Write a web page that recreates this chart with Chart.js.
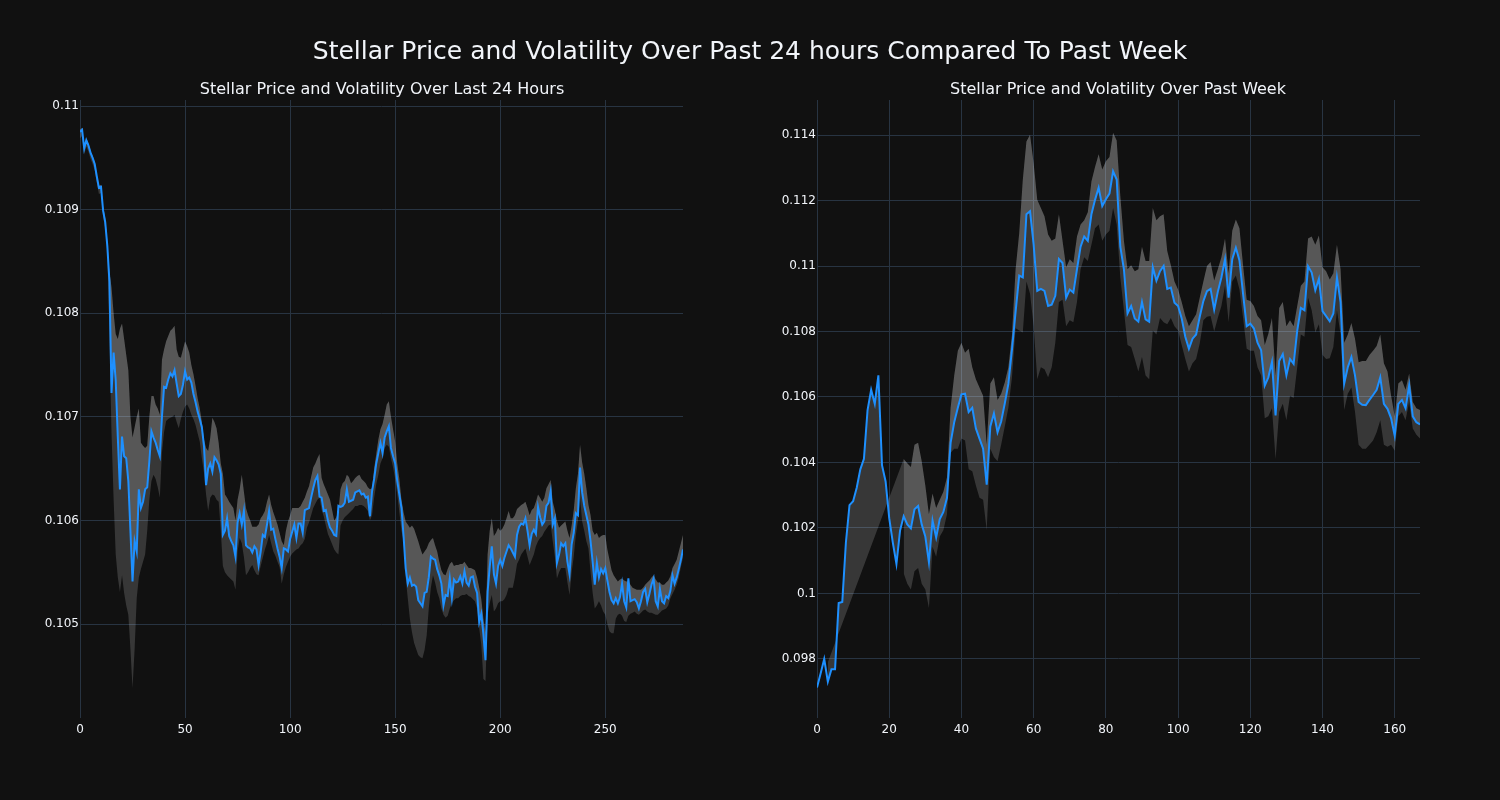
<!DOCTYPE html>
<html><head><meta charset="utf-8">
<script src="https://cdn.jsdelivr.net/npm/chart.js@4.4.1/dist/chart.umd.min.js"></script>
<style>
html,body{margin:0;padding:0;background:#111111;width:1500px;height:800px;overflow:hidden;font-family:"DejaVu Sans",sans-serif;}
canvas{position:absolute;top:0;}
.t{position:absolute;color:#f2f5fa;white-space:nowrap;transform:translate(-50%,-50%);line-height:1;}
</style></head><body>
<canvas id="c1" width="750" height="800" style="left:0px"></canvas>
<canvas id="c2" width="750" height="800" style="left:750px"></canvas>
<div class="t" style="left:750px;top:50px;font-size:25px;">Stellar Price and Volatility Over Past 24 hours Compared To Past Week</div>
<div class="t" style="left:382px;top:89px;font-size:16px;">Stellar Price and Volatility Over Last 24 Hours</div>
<div class="t" style="left:1118px;top:89px;font-size:16px;">Stellar Price and Volatility Over Past Week</div>
<script>
// ---------- Left panel: last 24 hours (5-minute steps) ----------
const dayPrice = [
0.10975,0.10977,0.10959,0.10967,0.10962,0.10955,0.10950,0.10944,0.10932,0.10921,
0.10922,0.10899,0.10888,0.10865,0.10831,0.10723,0.10762,0.10735,0.10680,0.10630,
0.10681,0.10662,0.10660,0.10638,0.10590,0.10541,0.10580,0.10570,0.10630,0.10612,
0.10618,0.10630,0.10632,0.10657,0.10686,0.10680,0.10675,0.10668,0.10662,0.10700,
0.10729,0.10728,0.10736,0.10742,0.10739,0.10745,0.10732,0.10720,0.10722,0.10731,
0.10744,0.10736,0.10738,0.10733,0.10722,0.10714,0.10705,0.10698,0.10690,0.10672,
0.10634,0.10650,0.10655,0.10647,0.10661,0.10658,0.10654,0.10645,0.10586,0.10590,
0.10602,0.10585,0.10580,0.10576,0.10565,0.10598,0.10607,0.10596,0.10609,0.10576,
0.10574,0.10573,0.10569,0.10575,0.10572,0.10557,0.10570,0.10586,0.10584,0.10596,
0.10609,0.10591,0.10592,0.10582,0.10573,0.10565,0.10554,0.10573,0.10572,0.10570,
0.10582,0.10589,0.10596,0.10583,0.10597,0.10597,0.10588,0.10610,0.10611,0.10612,
0.10622,0.10631,0.10639,0.10643,0.10623,0.10622,0.10609,0.10610,0.10600,0.10593,
0.10590,0.10586,0.10585,0.10614,0.10613,0.10614,0.10617,0.10630,0.10618,0.10619,
0.10620,0.10627,0.10628,0.10629,0.10625,0.10626,0.10622,0.10623,0.10604,0.10628,
0.10640,0.10655,0.10665,0.10675,0.10665,0.10680,0.10686,0.10691,0.10670,0.10662,
0.10655,0.10638,0.10625,0.10612,0.10585,0.10554,0.10539,0.10545,0.10537,0.10538,
0.10536,0.10523,0.10520,0.10517,0.10530,0.10531,0.10545,0.10565,0.10563,0.10562,
0.10553,0.10547,0.10539,0.10518,0.10528,0.10527,0.10544,0.10525,0.10543,0.10540,
0.10541,0.10546,0.10539,0.10551,0.10540,0.10537,0.10545,0.10546,0.10536,0.10530,
0.10502,0.10510,0.10490,0.10465,0.10531,0.10555,0.10575,0.10548,0.10539,0.10556,
0.10562,0.10556,0.10564,0.10570,0.10576,0.10573,0.10569,0.10565,0.10586,0.10594,
0.10597,0.10596,0.10602,0.10590,0.10576,0.10587,0.10591,0.10587,0.10613,0.10603,
0.10596,0.10599,0.10614,0.10617,0.10628,0.10596,0.10602,0.10559,0.10567,0.10578,
0.10575,0.10578,0.10560,0.10548,0.10577,0.10588,0.10607,0.10605,0.10651,0.10627,
0.10614,0.10605,0.10596,0.10580,0.10560,0.10538,0.10559,0.10545,0.10553,0.10549,
0.10554,0.10542,0.10531,0.10523,0.10520,0.10525,0.10520,0.10526,0.10539,0.10522,
0.10516,0.10544,0.10522,0.10523,0.10524,0.10521,0.10515,0.10522,0.10531,0.10534,
0.10521,0.10529,0.10538,0.10544,0.10522,0.10517,0.10534,0.10522,0.10520,0.10527,
0.10525,0.10532,0.10547,0.10539,0.10545,0.10553,0.10562,0.10572];
const dayUpper = [
0.10977,0.10979,0.10962,0.10969,0.10964,0.10957,0.10952,0.10946,0.10934,0.10923,
0.10924,0.10903,0.10892,0.10870,0.10840,0.10825,0.10800,0.10780,0.10775,0.10785,
0.10790,0.10775,0.10760,0.10745,0.10700,0.10680,0.10690,0.10700,0.10708,0.10675,
0.10672,0.10670,0.10672,0.10700,0.10720,0.10720,0.10712,0.10708,0.10702,0.10755,
0.10765,0.10773,0.10778,0.10783,0.10785,0.10788,0.10765,0.10758,0.10757,0.10765,
0.10773,0.10768,0.10762,0.10750,0.10741,0.10730,0.10718,0.10708,0.10695,0.10678,
0.10670,0.10667,0.10680,0.10699,0.10695,0.10689,0.10675,0.10655,0.10645,0.10625,
0.10622,0.10618,0.10615,0.10612,0.10600,0.10620,0.10630,0.10644,0.10628,0.10612,
0.10605,0.10600,0.10594,0.10594,0.10594,0.10596,0.10602,0.10605,0.10609,0.10618,
0.10625,0.10615,0.10608,0.10602,0.10596,0.10588,0.10580,0.10576,0.10590,0.10599,
0.10605,0.10612,0.10612,0.10612,0.10612,0.10614,0.10618,0.10622,0.10628,0.10633,
0.10642,0.10651,0.10655,0.10660,0.10664,0.10641,0.10635,0.10630,0.10625,0.10620,
0.10610,0.10600,0.10603,0.10609,0.10630,0.10636,0.10638,0.10644,0.10642,0.10636,
0.10638,0.10641,0.10643,0.10644,0.10640,0.10638,0.10636,0.10632,0.10630,0.10631,
0.10650,0.10664,0.10678,0.10688,0.10693,0.10702,0.10712,0.10715,0.10700,0.10688,
0.10676,0.10655,0.10640,0.10620,0.10608,0.10599,0.10596,0.10593,0.10595,0.10592,
0.10586,0.10580,0.10573,0.10567,0.10570,0.10573,0.10578,0.10581,0.10583,0.10576,
0.10570,0.10560,0.10552,0.10548,0.10547,0.10553,0.10558,0.10560,0.10556,0.10557,
0.10557,0.10558,0.10558,0.10560,0.10557,0.10554,0.10554,0.10553,0.10552,0.10545,
0.10535,0.10524,0.10505,0.10492,0.10567,0.10590,0.10602,0.10585,0.10588,0.10593,
0.10590,0.10592,0.10596,0.10602,0.10609,0.10602,0.10602,0.10605,0.10611,0.10613,
0.10615,0.10616,0.10618,0.10612,0.10605,0.10610,0.10612,0.10618,0.10625,0.10622,
0.10618,0.10622,0.10631,0.10635,0.10639,0.10618,0.10610,0.10600,0.10593,0.10595,
0.10597,0.10599,0.10590,0.10583,0.10595,0.10610,0.10631,0.10645,0.10673,0.10656,
0.10645,0.10631,0.10615,0.10605,0.10590,0.10586,0.10588,0.10583,0.10585,0.10586,
0.10586,0.10572,0.10562,0.10552,0.10547,0.10544,0.10541,0.10543,0.10544,0.10542,
0.10541,0.10541,0.10538,0.10535,0.10534,0.10533,0.10533,0.10533,0.10535,0.10538,
0.10540,0.10542,0.10545,0.10547,0.10543,0.10540,0.10540,0.10538,0.10538,0.10540,
0.10542,0.10546,0.10554,0.10558,0.10562,0.10570,0.10578,0.10586];
const dayLower = [
0.10969,0.10971,0.10953,0.10961,0.10956,0.10949,0.10944,0.10938,0.10926,0.10915,
0.10916,0.10893,0.10882,0.10859,0.10780,0.10684,0.10620,0.10567,0.10545,0.10531,
0.10547,0.10530,0.10518,0.10509,0.10476,0.10438,0.10476,0.10525,0.10545,0.10553,
0.10560,0.10567,0.10590,0.10620,0.10638,0.10644,0.10640,0.10632,0.10622,0.10665,
0.10685,0.10696,0.10698,0.10699,0.10700,0.10702,0.10695,0.10689,0.10698,0.10705,
0.10710,0.10712,0.10708,0.10702,0.10698,0.10692,0.10684,0.10676,0.10660,0.10646,
0.10625,0.10609,0.10622,0.10625,0.10624,0.10620,0.10618,0.10590,0.10556,0.10550,
0.10547,0.10545,0.10543,0.10541,0.10533,0.10570,0.10583,0.10578,0.10565,0.10547,
0.10550,0.10554,0.10557,0.10552,0.10548,0.10547,0.10556,0.10564,0.10572,0.10578,
0.10586,0.10578,0.10570,0.10566,0.10560,0.10555,0.10539,0.10548,0.10555,0.10560,
0.10565,0.10568,0.10570,0.10572,0.10573,0.10576,0.10578,0.10582,0.10593,0.10598,
0.10605,0.10612,0.10616,0.10620,0.10622,0.10610,0.10604,0.10595,0.10587,0.10582,
0.10577,0.10572,0.10569,0.10567,0.10595,0.10600,0.10603,0.10605,0.10607,0.10609,
0.10611,0.10614,0.10614,0.10615,0.10615,0.10614,0.10612,0.10609,0.10600,0.10605,
0.10622,0.10635,0.10644,0.10655,0.10660,0.10670,0.10673,0.10671,0.10660,0.10651,
0.10640,0.10625,0.10608,0.10590,0.10580,0.10545,0.10525,0.10505,0.10492,0.10482,
0.10476,0.10470,0.10468,0.10467,0.10475,0.10489,0.10515,0.10535,0.10547,0.10540,
0.10531,0.10525,0.10515,0.10509,0.10506,0.10508,0.10515,0.10520,0.10523,0.10525,
0.10525,0.10527,0.10528,0.10528,0.10529,0.10527,0.10526,0.10524,0.10522,0.10515,
0.10496,0.10480,0.10447,0.10445,0.10509,0.10520,0.10528,0.10512,0.10515,0.10520,
0.10522,0.10522,0.10524,0.10528,0.10535,0.10535,0.10535,0.10545,0.10558,0.10562,
0.10567,0.10570,0.10573,0.10565,0.10557,0.10562,0.10567,0.10575,0.10580,0.10583,
0.10585,0.10589,0.10592,0.10595,0.10596,0.10580,0.10565,0.10544,0.10550,0.10554,
0.10554,0.10554,0.10540,0.10528,0.10550,0.10565,0.10586,0.10600,0.10622,0.10599,
0.10590,0.10580,0.10573,0.10550,0.10530,0.10515,0.10518,0.10522,0.10518,0.10512,
0.10509,0.10500,0.10493,0.10491,0.10491,0.10505,0.10509,0.10510,0.10508,0.10503,
0.10502,0.10508,0.10510,0.10511,0.10512,0.10510,0.10509,0.10511,0.10513,0.10514,
0.10512,0.10511,0.10511,0.10510,0.10509,0.10509,0.10511,0.10513,0.10514,0.10515,
0.10518,0.10525,0.10529,0.10533,0.10538,0.10545,0.10555,0.10564];
const dayXTicks = [0, 50, 100, 150, 200, 250];
const dayYTicks = [0.105, 0.106, 0.107, 0.108, 0.109, 0.11];

// ---------- Right panel: past week (hourly) ----------
const weekPrice = [
0.09713,0.09756,0.09800,0.09731,0.09769,0.09769,0.09971,0.09974,0.10155,0.10270,
0.10282,0.10323,0.10379,0.10411,0.10560,0.10622,0.10579,0.10666,0.10392,0.10342,
0.10230,0.10155,0.10090,0.10192,0.10236,0.10211,0.10199,0.10257,0.10267,0.10211,
0.10174,0.10095,0.10223,0.10171,0.10227,0.10249,0.10292,0.10460,0.10523,0.10567,
0.10608,0.10610,0.10554,0.10567,0.10504,0.10473,0.10442,0.10332,0.10510,0.10550,
0.10492,0.10525,0.10580,0.10640,0.10745,0.10860,0.10971,0.10965,0.11158,0.11167,
0.11065,0.10924,0.10930,0.10924,0.10878,0.10882,0.10909,0.11021,0.11009,0.10903,
0.10928,0.10919,0.10990,0.11059,0.11090,0.11077,0.11158,0.11202,0.11239,0.11183,
0.11204,0.11221,0.11289,0.11264,0.11059,0.10990,0.10855,0.10878,0.10840,0.10830,
0.10890,0.10837,0.10830,0.10996,0.10955,0.10984,0.11000,0.10930,0.10934,0.10888,
0.10878,0.10840,0.10784,0.10747,0.10778,0.10791,0.10845,0.10893,0.10923,0.10930,
0.10867,0.10921,0.10965,0.11021,0.10903,0.11021,0.11056,0.11017,0.10915,0.10816,
0.10824,0.10809,0.10766,0.10743,0.10635,0.10660,0.10707,0.10544,0.10710,0.10731,
0.10666,0.10716,0.10701,0.10803,0.10872,0.10865,0.10999,0.10980,0.10926,0.10961,
0.10862,0.10847,0.10831,0.10855,0.10965,0.10890,0.10641,0.10691,0.10722,0.10666,
0.10585,0.10576,0.10575,0.10591,0.10606,0.10622,0.10660,0.10579,0.10564,0.10535,
0.10482,0.10579,0.10591,0.10566,0.10635,0.10541,0.10523,0.10516];
const weekUpper = [
null,null,null,0.09790,null,null,null,null,null,null,
null,null,null,null,null,null,null,null,null,null,
null,null,null,null,0.10411,0.10398,0.10386,0.10454,0.10460,0.10404,
0.10330,0.10242,0.10305,0.10261,0.10286,0.10311,0.10355,0.10567,0.10666,0.10741,
0.10766,0.10735,0.10747,0.10691,0.10654,0.10629,0.10604,0.10454,0.10641,0.10660,
0.10591,0.10610,0.10644,0.10691,0.10790,0.10990,0.11100,0.11264,0.11380,0.11401,
0.11314,0.11202,0.11177,0.11152,0.11096,0.11077,0.11084,0.11158,0.11077,0.10996,
0.11021,0.11009,0.11090,0.11127,0.11140,0.11164,0.11258,0.11302,0.11341,0.11295,
0.11320,0.11333,0.11407,0.11383,0.11214,0.11077,0.10990,0.11002,0.10984,0.10990,
0.11059,0.11015,0.11015,0.11177,0.11140,0.11152,0.11158,0.11046,0.11002,0.10953,
0.10928,0.10890,0.10847,0.10816,0.10834,0.10853,0.10903,0.10953,0.11000,0.11012,
0.10956,0.10990,0.11027,0.11084,0.10978,0.11108,0.11142,0.11115,0.11002,0.10897,
0.10893,0.10878,0.10847,0.10834,0.10759,0.10793,0.10841,0.10666,0.10872,0.10890,
0.10816,0.10834,0.10816,0.10878,0.10940,0.10953,0.11084,0.11090,0.11065,0.11093,
0.10996,0.10984,0.10959,0.10978,0.11065,0.10990,0.10766,0.10791,0.10826,0.10778,
0.10706,0.10710,0.10710,0.10728,0.10741,0.10756,0.10791,0.10703,0.10678,0.10604,
0.10541,0.10641,0.10651,0.10622,0.10672,0.10585,0.10566,0.10560];
const weekLower = [
null,null,null,null,null,null,null,null,null,null,
null,null,null,null,null,null,null,null,null,null,
null,null,null,null,0.10062,0.10030,0.10012,0.10068,0.10078,0.10030,
0.10012,0.09956,0.10143,0.10112,0.10174,0.10193,0.10242,0.10429,0.10442,0.10442,
0.10473,0.10467,0.10379,0.10373,0.10330,0.10292,0.10286,0.10193,0.10442,0.10417,
0.10404,0.10454,0.10510,0.10567,0.10660,0.10810,0.10803,0.10797,0.10953,0.10915,
0.10816,0.10654,0.10691,0.10685,0.10660,0.10691,0.10766,0.10890,0.10897,0.10816,
0.10834,0.10828,0.10890,0.10990,0.11027,0.11015,0.11065,0.11115,0.11127,0.11077,
0.11096,0.11108,0.11177,0.11127,0.10965,0.10865,0.10759,0.10753,0.10716,0.10678,
0.10722,0.10666,0.10654,0.10803,0.10791,0.10841,0.10828,0.10822,0.10841,0.10816,
0.10803,0.10759,0.10716,0.10678,0.10703,0.10716,0.10763,0.10834,0.10845,0.10847,
0.10800,0.10841,0.10878,0.10940,0.10828,0.10953,0.10971,0.10928,0.10841,0.10747,
0.10741,0.10741,0.10691,0.10666,0.10535,0.10541,0.10566,0.10411,0.10554,0.10579,
0.10529,0.10604,0.10597,0.10691,0.10791,0.10784,0.10903,0.10865,0.10797,0.10822,
0.10728,0.10716,0.10718,0.10753,0.10865,0.10791,0.10560,0.10610,0.10629,0.10554,
0.10454,0.10442,0.10442,0.10454,0.10467,0.10492,0.10529,0.10454,0.10448,0.10454,
0.10436,0.10541,0.10554,0.10529,0.10585,0.10504,0.10485,0.10473];
const weekXTicks = [0, 20, 40, 60, 80, 100, 120, 140, 160];
const weekYTicks = [0.098, 0.1, 0.102, 0.104, 0.106, 0.108, 0.11, 0.112, 0.114];

// ---------- Styles ----------
const LINE = '#1e90ff';
const BAND = 'rgba(255,255,255,0.16)';
const GRID = '#283442';
const TEXT = '#f2f5fa';
const FONT = '"DejaVu Sans", sans-serif';

function fmt(v) { return String(+v.toFixed(6)); }

function makeChart(id, price, upper, lower, xTicks, yTicks, xMax, yMin, yMax, padL, padR) {
  const labels = price.map((_, i) => i);
  return new Chart(document.getElementById(id), {
    type: 'line',
    data: {
      labels: labels,
      datasets: [
        { data: price, borderColor: LINE, borderWidth: 2, pointRadius: 0, fill: false, tension: 0 },
        { data: upper, borderColor: 'rgba(0,0,0,0)', borderWidth: 0, pointRadius: 0, fill: '-1', backgroundColor: BAND, spanGaps: true },
        { data: lower, borderColor: 'rgba(0,0,0,0)', borderWidth: 0, pointRadius: 0, fill: '-1', backgroundColor: BAND, spanGaps: true }
      ]
    },
    options: {
      responsive: false, animation: false, devicePixelRatio: 1,
      layout: { padding: { left: padL, right: padR, top: 100, bottom: 0 } },
      plugins: { legend: { display: false }, tooltip: { enabled: false }, title: { display: false } },
      scales: {
        x: {
          type: 'linear', min: 0, max: xMax,
          afterBuildTicks: s => { s.ticks = xTicks.map(v => ({ value: v })); },
          afterFit: s => { s.height = 82; },
          grid: { color: GRID, drawTicks: false, lineWidth: 1 },
          border: { display: false },
          ticks: { color: TEXT, font: { family: FONT, size: 12 }, padding: 5, maxRotation: 0, autoSkip: false, callback: v => fmt(v) }
        },
        y: {
          type: 'linear', min: yMin, max: yMax,
          afterBuildTicks: s => { s.ticks = yTicks.map(v => ({ value: v })); },
          afterFit: s => { s.width = 60; },
          grid: { color: GRID, drawTicks: false, lineWidth: 1 },
          border: { display: false },
          ticks: { color: TEXT, font: { family: FONT, size: 12 }, padding: 1, autoSkip: false, callback: v => fmt(v) }
        }
      }
    }
  });
}

makeChart('c1', dayPrice, dayUpper, dayLower, dayXTicks, dayYTicks, 287, 0.104093, 0.110058, 20, 67);
makeChart('c2', weekPrice, weekUpper, weekLower, weekXTicks, weekYTicks, 167, 0.096198, 0.115069, 7, 80);
</script>
</body></html>
